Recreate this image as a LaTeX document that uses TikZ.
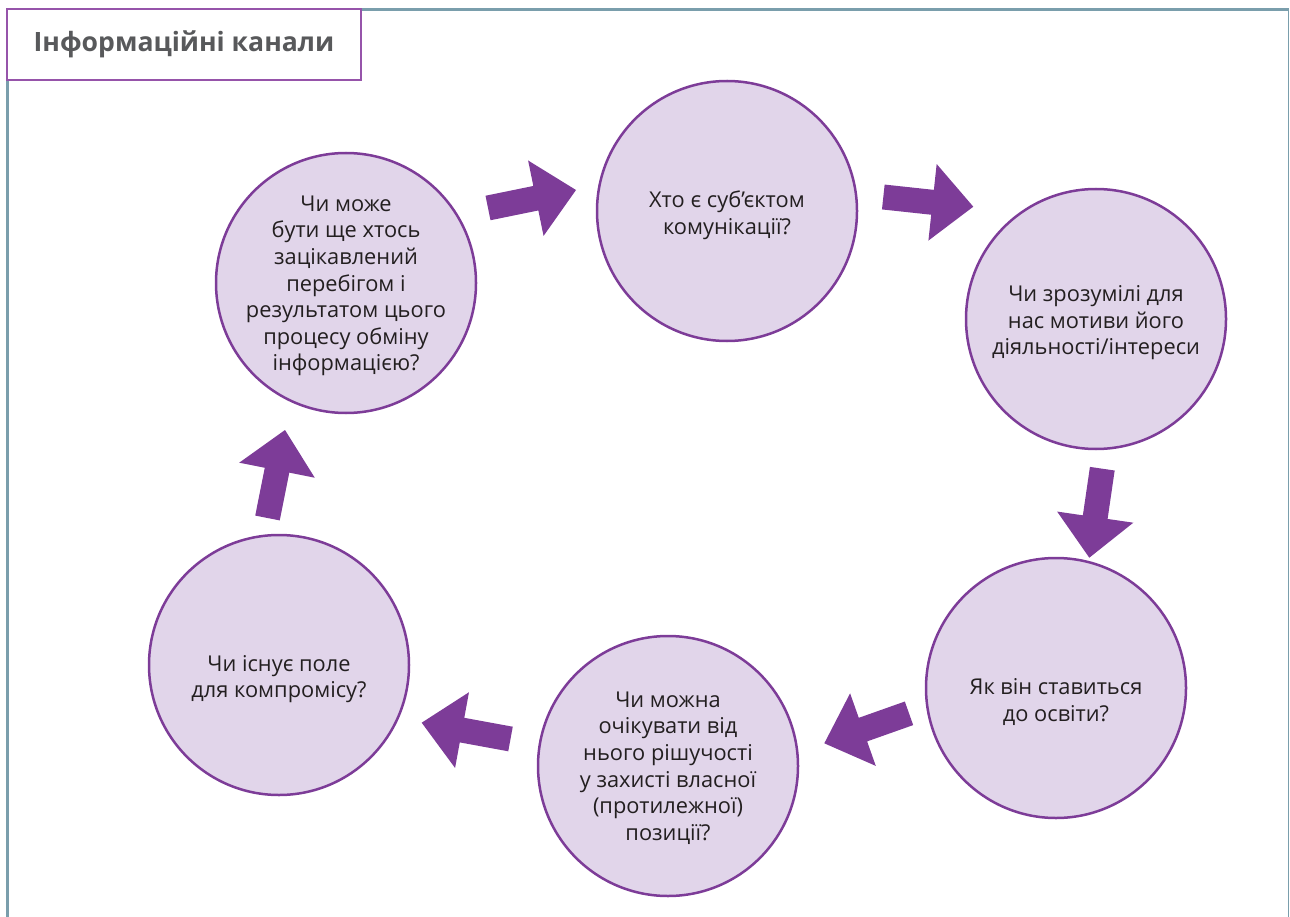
\documentclass[tikz,border=0pt]{standalone}
\usepackage{fontspec}
\setmainfont{Open Sans}
\usetikzlibrary{calc}
\definecolor{arrowpurple}{RGB}{125,60,152}
\definecolor{circlefill}{RGB}{225,213,234}
\definecolor{circleline}{RGB}{125,60,152}
\definecolor{titleline}{RGB}{150,84,170}
\definecolor{framecol}{RGB}{122,158,172}
\definecolor{titletext}{RGB}{88,89,91}
\definecolor{bodytext}{RGB}{35,31,32}
\newcommand\purplearrow[2]{%
  \path ($(#2)!41pt!(#1)$) coordinate (J);
  \fill[arrowpurple] ($(#1)!12.5pt!90:(#2)$) -- ($(J)!12.5pt!-90:(#1)$) -- ($(J)!38.5pt!-90:(#1)$) -- (#2)
    -- ($(J)!38.5pt!90:(#1)$) -- ($(J)!12.5pt!90:(#1)$) -- ($(#1)!12.5pt!-90:(#2)$) -- cycle;}
\begin{document}
\begin{tikzpicture}[x=1pt,y=-1pt,
  bubble/.style={circle, draw=circleline, line width=2.5pt, fill=circlefill, minimum size=260pt, inner sep=0pt},
  qtext/.style={align=center, inner sep=0pt, font=\fontsize{21.8}{26.6}\selectfont, text=bodytext},
  framestyle/.style={draw=framecol}]
\useasboundingbox (0,0) rectangle (1290,917);
% frame
\draw[framestyle, line width=3pt] (7.5,80) -- (7.5,917);
\draw[framestyle, line width=2.5pt] (361,9.7) -- (1288.7,9.7);
\draw[framestyle, line width=1.5pt] (1288.7,9.7) -- (1288.7,917);
\node (title) [draw=titleline, line width=2pt, fill=white, minimum width=354pt, minimum height=70.7pt, inner sep=0pt,
  text=titletext, font=\fontsize{26.6}{30}\selectfont\bfseries] at (184,44.6) {Інформаційні канали};
% circles
\node (c1) [bubble] at (727,211) {};
\node (c2) [bubble] at (1096,319) {};
\node (c3) [bubble] at (1056,688) {};
\node (c4) [bubble] at (668,766) {};
\node (c5) [bubble] at (279,665) {};
\node (c6) [bubble] at (346,283) {};
% texts
\node (t1) [qtext] at ($(c1)+(0,4)$) {Хто є суб’єктом\\комунікації?};
\node (t2) [qtext] at ($(c2)+(0,4)$) {Чи зрозумілі для\\нас мотиви його\\діяльності/інтереси};
\node (t3) [qtext] at ($(c3)+(0,14)$) {Як він ставиться\\до освіти?};
\node (t4) [qtext] at ($(c4)+(0,2)$) {Чи можна\\очікувати від\\нього рішучості\\у захисті власної\\(протилежної)\\позиції?};
\node (t5) [qtext] at ($(c5)+(0,14)$) {Чи існує поле\\для компромісу?};
\node (t6) [qtext] at ($(c6)+(0,3)$) {Чи може\\бути ще хтось\\зацікавлений\\перебігом і\\результатом цього\\процесу обміну\\інформацією?};
% arrow end points
\coordinate (a1s) at (488,208);    \coordinate (a1e) at (576,190);
\coordinate (a2s) at (883.3,197);  \coordinate (a2e) at (973.3,206.7);
\coordinate (a3s) at (1102.3,468.7); \coordinate (a3e) at (1089.3,557.7);
\coordinate (a4s) at (909,713.3);  \coordinate (a4e) at (824.3,743.3);
\coordinate (a5s) at (510.5,739);  \coordinate (a5e) at (421.7,722.7);
\coordinate (a6s) at (267.5,518);  \coordinate (a6e) at (285,430);
\purplearrow{a1s}{a1e}
\purplearrow{a2s}{a2e}
\purplearrow{a3s}{a3e}
\purplearrow{a4s}{a4e}
\purplearrow{a5s}{a5e}
\purplearrow{a6s}{a6e}
\end{tikzpicture}
\end{document}
